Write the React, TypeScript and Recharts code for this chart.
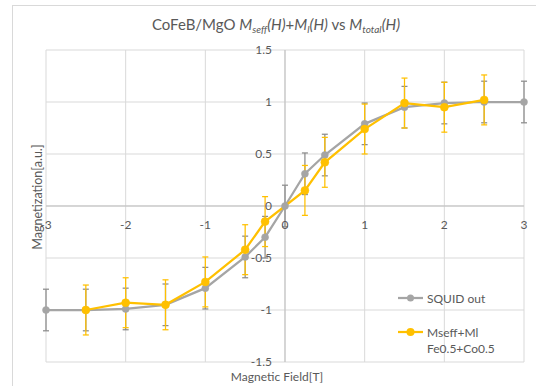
import React from "react";
import {
  LineChart,
  Line,
  XAxis,
  YAxis,
  CartesianGrid,
  ReferenceLine,
  ErrorBar,
} from "recharts";

// ---- data ----
const squidField = [-3, -2.5, -2, -1.5, -1, -0.5, -0.25, 0, 0.25, 0.5, 1, 1.5, 2, 2.5, 3];
const squidMag = [-1.0, -1.0, -0.99, -0.95, -0.79, -0.49, -0.3, 0, 0.31, 0.49, 0.79, 0.95, 0.99, 1.0, 1.0];
const squidErr = [0.2, 0.2, 0.2, 0.2, 0.2, 0.2, 0.2, 0.2, 0.2, 0.2, 0.2, 0.2, 0.2, 0.2, 0.2];

const calcField = [-2.5, -2, -1.5, -1, -0.5, -0.25, 0.25, 0.5, 1, 1.5, 2, 2.5];
const calcMag = [-1.0, -0.93, -0.95, -0.73, -0.42, -0.15, 0.15, 0.42, 0.74, 0.99, 0.95, 1.02];
const calcErr = [0.24, 0.24, 0.24, 0.24, 0.24, 0.24, 0.24, 0.24, 0.24, 0.24, 0.24, 0.24];

const xTicks = [-3, -2, -1, 0, 1, 2, 3];
const yTicks = [-1.5, -1, -0.5, 0, 0.5, 1, 1.5];

const squidData = squidField.map((x, i) => ({ x, y: squidMag[i], err: squidErr[i] }));
const calcData = calcField.map((x, i) => ({ x, y: calcMag[i], err: calcErr[i] }));

// ---- layout ----
const W = 536;
const H = 386;
const Y_AXIS_W = 46;
const X_AXIS_H = 24;
const M = { top: 50, right: 12, bottom: 0, left: 0 };
const PLOT_LEFT = M.left + Y_AXIS_W;
const PW = W - PLOT_LEFT - M.right;
const PH = H - M.top - M.bottom - X_AXIS_H;
const ZERO_X = PLOT_LEFT + PW / 2;
const ZERO_Y = M.top + PH / 2;

const FONT = "Lato, 'Open Sans', sans-serif";
const TXT = "#595959";
const GRAY = "#a5a5a5";
const YELLOW = "#ffc000";

const YTick = (props: any) => {
  const { y, payload } = props;
  return (
    <text x={ZERO_X - 13} y={y - 1} textAnchor="end" dominantBaseline="central" fill={TXT} fontSize={12} fontFamily={FONT}>
      {payload.value}
    </text>
  );
};

const XTick = (props: any) => {
  const { x, payload } = props;
  return (
    <text x={x} y={ZERO_Y + 18} textAnchor="middle" dominantBaseline="central" fill={TXT} fontSize={12} fontFamily={FONT}>
      {payload.value}
    </text>
  );
};

export default function App() {
  return (
    <div style={{ position: "absolute", left: 0, top: 0, width: W, height: H, overflow: "hidden", background: "#fff" }}>
      <div
        style={{
          position: "absolute",
          left: 12,
          top: 5,
          width: 700,
          height: 600,
          borderLeft: "1px solid #d9d9d9",
          borderTop: "1px solid #d9d9d9",
        }}
      />
      <div style={{ position: "absolute", left: 0, top: 0 }}>
        <LineChart width={W} height={H} margin={M}>
          <CartesianGrid stroke="#d9d9d9" strokeWidth={1} />
          <XAxis
            type="number"
            dataKey="x"
            domain={[-3, 3]}
            ticks={xTicks}
            interval={0}
            height={X_AXIS_H}
            axisLine={false}
            tickLine={false}
            tick={XTick}
            allowDuplicatedCategory={false}
          />
          <YAxis
            type="number"
            domain={[-1.5, 1.5]}
            ticks={yTicks}
            interval={0}
            width={Y_AXIS_W}
            axisLine={false}
            tickLine={false}
            tick={YTick}
          />
          <ReferenceLine x={0} stroke="#bfbfbf" strokeWidth={1} />
          <ReferenceLine y={0} stroke="#bfbfbf" strokeWidth={1} />
          <Line
            data={squidData}
            dataKey="y"
            name="SQUID out"
            stroke={GRAY}
            strokeWidth={2.25}
            dot={{ r: 3.5, fill: GRAY, stroke: GRAY, strokeWidth: 0.5 }}
            isAnimationActive={false}
          >
            <ErrorBar dataKey="err" direction="y" width={3} stroke="#8c8c8c" strokeWidth={1.25} isAnimationActive={false} />
          </Line>
          <Line
            data={calcData}
            dataKey="y"
            name="Mseff+Ml Fe0.5+Co0.5"
            stroke={YELLOW}
            strokeWidth={2.25}
            dot={{ r: 4, fill: YELLOW, stroke: YELLOW, strokeWidth: 0.5 }}
            isAnimationActive={false}
          >
            <ErrorBar dataKey="err" direction="y" width={3} stroke={YELLOW} strokeWidth={1.25} isAnimationActive={false} />
          </Line>
        </LineChart>
      </div>
      <svg
        width={W}
        height={H}
        style={{ position: "absolute", left: 0, top: 0, pointerEvents: "none" }}
        fontFamily={FONT}
      >
        <text x={276} y={30} textAnchor="middle" fill={TXT} fontSize={15}>
          <tspan>CoFeB/MgO </tspan>
          <tspan fontStyle="italic">M</tspan>
          <tspan fontStyle="italic" fontSize={10} dy={3}>seff</tspan>
          <tspan fontStyle="italic" dy={-3}>(H)</tspan>
          <tspan>+</tspan>
          <tspan fontStyle="italic">M</tspan>
          <tspan fontStyle="italic" fontSize={10} dy={3}>l</tspan>
          <tspan fontStyle="italic" dy={-3}>(H)</tspan>
          <tspan> vs </tspan>
          <tspan fontStyle="italic">M</tspan>
          <tspan fontStyle="italic" fontSize={10} dy={3}>total</tspan>
          <tspan fontStyle="italic" dy={-3}>(H)</tspan>
        </text>
        <text x={277} y={376} textAnchor="middle" dominantBaseline="central" fill={TXT} fontSize={12}>
          Magnetic Field[T]
        </text>
        <text
          x={37}
          y={197}
          textAnchor="middle"
          dominantBaseline="central"
          fill={TXT}
          fontSize={12.5}
          transform="rotate(-90 37 197)"
        >
          Magnetization[a.u.]
        </text>
        {/* legend */}
        <line x1={398} y1={298} x2={423} y2={298} stroke={GRAY} strokeWidth={2.25} />
        <circle cx={410.5} cy={298} r={3.5} fill={GRAY} />
        <text x={427} y={298} dominantBaseline="central" fill={TXT} fontSize={12}>
          SQUID out
        </text>
        <line x1={398} y1={332} x2={423} y2={332} stroke={YELLOW} strokeWidth={2.25} />
        <circle cx={410.5} cy={332} r={4} fill={YELLOW} />
        <text x={427} y={332} dominantBaseline="central" fill={TXT} fontSize={12}>
          Mseff+Ml
        </text>
        <text x={427} y={348} dominantBaseline="central" fill={TXT} fontSize={12}>
          Fe0.5+Co0.5
        </text>
      </svg>
    </div>
  );
}
